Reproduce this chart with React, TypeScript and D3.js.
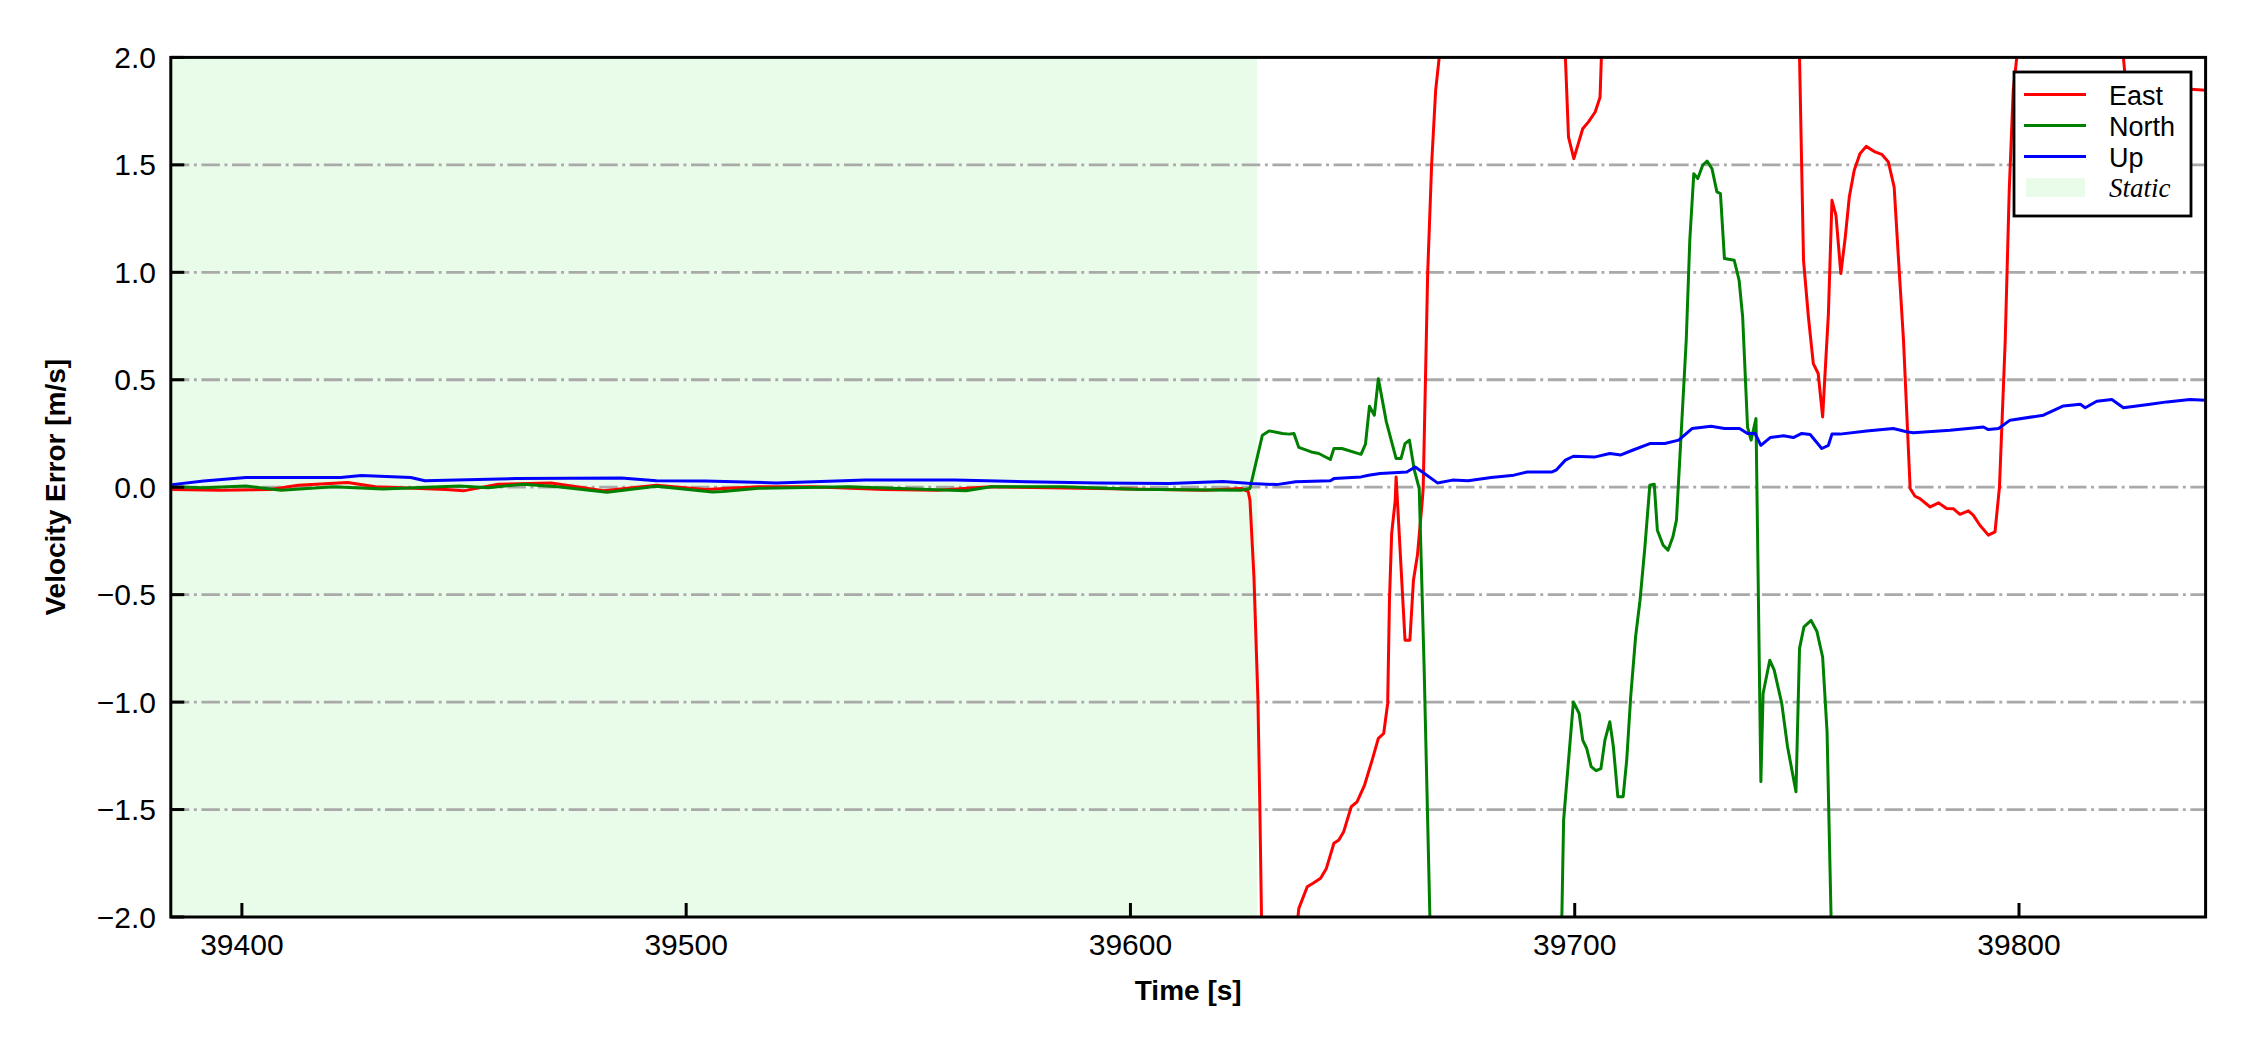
import React from "react";
import * as d3 from "d3";

// velocity error samples: [time s, error m/s], null = off-scale gap
const eastData: [number, number | null][] = [
  [39384.3, -0.011], [39395.3, -0.014], [39406.4, -0.011], [39412.7, 0.009], [39423.8, 0.022],
  [39430.1, 0.002], [39445.9, -0.011], [39449.8, -0.017], [39457.7, 0.014], [39469.6, 0.02],
  [39481.4, -0.017], [39493.3, 0.009], [39504.3, -0.011], [39516.3, 0.002], [39528.4, 0.002],
  [39544.5, -0.011], [39556.5, -0.014], [39568.6, 0.002], [39592.7, -0.006], [39616.8, -0.014],
  [39624.9, -0.006], [39626.5, -0.02], [39626.9, -0.06], [39627.8, -0.417], [39628.7, -0.99],
  [39629.1, -1.456], [39629.5, -2.0], [39633, null],
  [39637.7, -2.0], [39637.9, -1.96], [39639.8, -1.859], [39641.1, -1.843], [39642.8, -1.82],
  [39644.1, -1.774], [39645.8, -1.657], [39646.9, -1.642], [39648.0, -1.603], [39649.7, -1.487],
  [39651.0, -1.464], [39652.7, -1.386], [39654.4, -1.27], [39655.8, -1.169], [39657.0, -1.146],
  [39657.9, -1.006], [39658.3, -0.526], [39658.8, -0.215], [39659.6, -0.06], [39659.8, 0.048],
  [39661.8, -0.712], [39662.9, -0.712], [39663.7, -0.433], [39664.6, -0.316], [39665.7, -0.06],
  [39665.9, 0.0], [39666.9, 0.994], [39667.8, 1.506], [39668.7, 1.847], [39669.5, 2.0], [39680, null],
  [39697.9, 2.0], [39698.6, 1.629], [39699.8, 1.529], [39701.8, 1.668], [39703.1, 1.7],
  [39704.6, 1.746], [39705.7, 1.815], [39706.0, 2.0], [39730, null],
  [39750.6, 2.0], [39751.5, 1.056], [39752.6, 0.792], [39753.7, 0.575], [39754.8, 0.529],
  [39755.8, 0.327], [39757.1, 0.808], [39757.9, 1.335], [39758.8, 1.265], [39759.9, 0.994],
  [39760.9, 1.164], [39761.8, 1.35], [39762.9, 1.474], [39764.2, 1.552], [39765.6, 1.586],
  [39767.6, 1.56], [39769.1, 1.549], [39770.6, 1.513], [39771.9, 1.397], [39772.8, 1.087],
  [39774.0, 0.684], [39775.5, -0.006], [39776.6, -0.042], [39777.7, -0.053], [39780.0, -0.092],
  [39781.9, -0.073], [39783.7, -0.099], [39785.2, -0.1], [39786.7, -0.126], [39788.6, -0.11],
  [39789.7, -0.13], [39791.2, -0.177], [39793.1, -0.223], [39794.6, -0.208], [39795.6, 0.0],
  [39796.9, 0.684], [39797.8, 1.381], [39798.7, 1.847], [39799.5, 2.0], [39810, null],
  [39823.5, 2.0], [39823.9, 1.908], [39825.0, 1.87], [39829.5, 1.86], [39837.0, 1.854],
  [39842.0, 1.847],
];

const northData: [number, number | null][] = [
  [39384.3, 0.002], [39391.4, -0.003], [39400.9, 0.006], [39408.8, -0.014], [39420.6, 0.002],
  [39431.7, -0.008], [39449.0, 0.006], [39455.4, -0.003], [39463.3, 0.014], [39471.1, 0.002],
  [39482.2, -0.023], [39493.3, 0.004], [39505.9, -0.022], [39508.3, -0.02], [39516.3, -0.005],
  [39536.4, 0.002], [39563.0, -0.017], [39568.6, 0.002], [39584.7, 0.002], [39600.7, -0.009],
  [39624.9, -0.014], [39626.9, -0.006], [39629.7, 0.242], [39631.2, 0.262], [39634.2, 0.25],
  [39635.7, 0.247], [39636.8, 0.25], [39637.9, 0.185], [39640.7, 0.164], [39642.4, 0.157],
  [39645.0, 0.129], [39645.8, 0.18], [39647.6, 0.18], [39651.9, 0.153], [39652.9, 0.2],
  [39653.8, 0.377], [39654.9, 0.335], [39655.8, 0.505], [39657.6, 0.304], [39659.8, 0.133],
  [39660.9, 0.133], [39661.8, 0.203], [39662.8, 0.219], [39663.9, 0.079], [39665.0, -0.006],
  [39666.1, -0.836], [39667.4, -2.0], [39680, null],
  [39697.1, -2.0], [39697.5, -1.549], [39699.7, -0.999], [39701.0, -1.053], [39701.8, -1.177],
  [39702.7, -1.216], [39703.7, -1.3], [39704.8, -1.319], [39705.9, -1.309], [39706.8, -1.177],
  [39707.9, -1.091], [39708.7, -1.208], [39709.7, -1.44], [39710.9, -1.44], [39711.7, -1.27],
  [39712.6, -0.975], [39713.7, -0.696], [39714.7, -0.526], [39715.8, -0.278], [39716.9, 0.009],
  [39717.9, 0.014], [39718.6, -0.2], [39719.9, -0.27], [39721.0, -0.293], [39722.1, -0.231],
  [39722.9, -0.153], [39725.1, 0.684], [39725.9, 1.149], [39726.8, 1.459], [39727.7, 1.436],
  [39728.8, 1.498], [39729.8, 1.518], [39730.9, 1.482], [39732.0, 1.374], [39732.8, 1.366],
  [39733.7, 1.064], [39735.9, 1.056], [39737.0, 0.963], [39737.8, 0.792], [39738.9, 0.28],
  [39739.7, 0.219], [39740.8, 0.319], [39741.9, -1.37], [39742.4, -0.96], [39743.9, -0.805],
  [39744.9, -0.851], [39746.6, -1.006], [39747.9, -1.208], [39749.8, -1.417], [39750.6, -0.75],
  [39751.6, -0.65], [39753.2, -0.62], [39754.5, -0.67], [39755.8, -0.79], [39756.8, -1.14],
  [39757.7, -2.0],
];

const upData: [number, number | null][] = [
  [39384.3, 0.012], [39391.4, 0.029], [39400.9, 0.045], [39422.2, 0.045], [39426.9, 0.054],
  [39438.0, 0.045], [39441.2, 0.03], [39461.7, 0.04], [39485.4, 0.043], [39493.3, 0.03],
  [39504.3, 0.029], [39520.3, 0.02], [39540.4, 0.033], [39560.5, 0.033], [39576.6, 0.025],
  [39592.7, 0.02], [39608.8, 0.017], [39620.8, 0.026], [39627.2, 0.017], [39632.9, 0.012],
  [39637.2, 0.025], [39645.0, 0.03], [39645.8, 0.04], [39651.9, 0.048], [39653.6, 0.056],
  [39656.2, 0.064], [39662.2, 0.071], [39664.1, 0.094], [39665.7, 0.071], [39669.1, 0.02],
  [39672.5, 0.033], [39676.0, 0.03], [39681.2, 0.045], [39686.3, 0.056], [39689.3, 0.071],
  [39694.9, 0.071], [39695.8, 0.079], [39697.9, 0.126], [39699.7, 0.144], [39704.4, 0.14],
  [39707.9, 0.157], [39710.4, 0.15], [39713.0, 0.172], [39716.9, 0.203], [39720.3, 0.203],
  [39723.4, 0.219], [39726.4, 0.273], [39730.7, 0.284], [39733.7, 0.273], [39737.1, 0.273],
  [39738.9, 0.25], [39740.6, 0.25], [39741.9, 0.195], [39744.0, 0.231], [39747.0, 0.239],
  [39749.2, 0.231], [39751.1, 0.25], [39753.0, 0.245], [39755.6, 0.18], [39757.1, 0.195],
  [39757.9, 0.247], [39759.7, 0.247], [39765.7, 0.262], [39771.7, 0.273], [39774.7, 0.258],
  [39776.2, 0.253], [39784.5, 0.265], [39792.0, 0.28], [39793.1, 0.268], [39795.4, 0.273],
  [39798.0, 0.312], [39805.5, 0.335], [39810.0, 0.378], [39813.8, 0.386], [39814.9, 0.37],
  [39817.5, 0.4], [39820.9, 0.408], [39823.5, 0.37], [39829.5, 0.386], [39833.3, 0.397],
  [39838.5, 0.408], [39842.0, 0.405],
];

const staticSpan = [39384, 39628.5];
const xTicks = [39400, 39500, 39600, 39700, 39800];
const yTicks = [-2, -1.5, -1, -0.5, 0, 0.5, 1, 1.5, 2];
const seriesNames = ["East", "North", "Up"];
const seriesColors = ["#ff0000", "#008000", "#0000ff"];

const W = 2250;
const H = 1050;
const margin = { top: 57.4, right: 44.4, bottom: 133, left: 170.8 };
const sans = "'Liberation Sans', Arial, sans-serif";

export default function App() {
  const innerW = W - margin.left - margin.right;
  const innerH = H - margin.top - margin.bottom;

  const x = d3.scaleLinear().domain([39384, 39842]).range([margin.left, margin.left + innerW]);
  const y = d3.scaleLinear().domain([-2, 2]).range([margin.top + innerH, margin.top]);

  const line = d3
    .line<[number, number | null]>()
    .defined((d) => d[1] !== null)
    .x((d) => x(d[0]))
    .y((d) => y(d[1] as number));

  const fmt = d3.format(".1f");
  const series = [eastData, northData, upData];

  // legend geometry
  const lg = { x: 2014, y: 72, w: 177, h: 144 };
  const rowY = (i: number) => 94.5 + i * 31;

  return (
    <svg width={W} height={H} style={{ position: "absolute", left: 0, top: 0, background: "#fff" }}>
      <defs>
        <clipPath id="plot-clip">
          <rect x={margin.left} y={margin.top} width={innerW} height={innerH} />
        </clipPath>
      </defs>

      {/* static period */}
      <rect
        x={x(staticSpan[0])}
        y={margin.top}
        width={x(staticSpan[1]) - x(staticSpan[0])}
        height={innerH}
        fill="#e9fce9"
      />

      {/* horizontal grid */}
      {yTicks
        .filter((t) => t > -2 && t < 2)
        .map((t) => (
          <line
            key={"g" + t}
            x1={margin.left}
            x2={margin.left + innerW}
            y1={y(t)}
            y2={y(t)}
            stroke="#a9a9a9"
            strokeWidth={2.8}
            strokeDasharray="18.5 4.6 2.9 4.6"
          />
        ))}

      <g clipPath="url(#plot-clip)">
        {series.map((s, i) => (
          <path
            key={seriesNames[i]}
            d={line(s) || ""}
            fill="none"
            stroke={seriesColors[i]}
            strokeWidth={3}
            strokeLinejoin="round"
          />
        ))}
      </g>

      {/* frame */}
      <rect
        x={margin.left}
        y={margin.top}
        width={innerW}
        height={innerH}
        fill="none"
        stroke="#000"
        strokeWidth={3}
      />

      {/* y ticks */}
      {yTicks.map((t) => (
        <g key={"y" + t}>
          <line x1={margin.left} x2={margin.left + 13.5} y1={y(t)} y2={y(t)} stroke="#000" strokeWidth={3} />
          <text x={156} y={y(t) + 10.5} textAnchor="end" fontFamily={sans} fontSize={30}>
            {fmt(t)}
          </text>
        </g>
      ))}

      {/* x ticks */}
      {xTicks.map((t) => (
        <g key={"x" + t}>
          <line
            x1={x(t)}
            x2={x(t)}
            y1={margin.top + innerH}
            y2={margin.top + innerH - 14}
            stroke="#000"
            strokeWidth={3}
          />
          <text x={x(t)} y={955} textAnchor="middle" fontFamily={sans} fontSize={30}>
            {t}
          </text>
        </g>
      ))}

      {/* axis labels */}
      <text
        x={margin.left + innerW / 2}
        y={1000}
        textAnchor="middle"
        fontFamily={sans}
        fontWeight="bold"
        fontSize={28}
      >
        Time [s]
      </text>
      <text
        transform={`translate(65, ${margin.top + innerH / 2}) rotate(-90)`}
        textAnchor="middle"
        fontFamily={sans}
        fontWeight="bold"
        fontSize={28}
      >
        Velocity Error [m/s]
      </text>

      {/* legend */}
      <g>
        <rect x={lg.x} y={lg.y} width={lg.w} height={lg.h} fill="#fff" stroke="#000" strokeWidth={2.8} />
        {seriesNames.map((name, i) => (
          <g key={"l" + name}>
            <line x1={2024} x2={2086} y1={rowY(i)} y2={rowY(i)} stroke={seriesColors[i]} strokeWidth={3} />
            <text x={2109} y={rowY(i) + 10} fontFamily={sans} fontSize={27}>
              {name}
            </text>
          </g>
        ))}
        <rect x={2026} y={rowY(3) - 9.5} width={59} height={19} fill="#e9fce9" />
        <text
          x={2109}
          y={rowY(3) + 9.5}
          fontFamily="'Liberation Serif', 'Times New Roman', serif"
          fontStyle="italic"
          fontSize={27}
        >
          Static
        </text>
      </g>
    </svg>
  );
}
